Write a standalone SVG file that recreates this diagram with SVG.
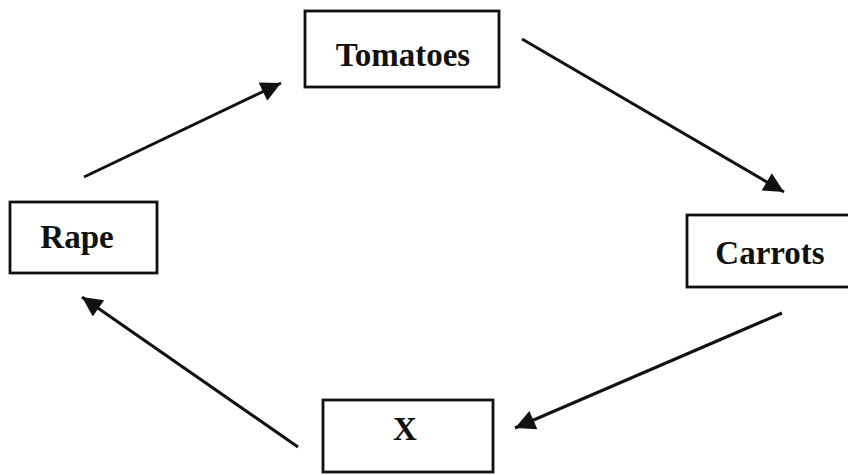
<svg xmlns="http://www.w3.org/2000/svg" width="848" height="475" viewBox="0 0 848 475">
<style>
.box{fill:#fff;stroke:#111;stroke-width:2.8}
.lbl{font-family:"Liberation Serif","Times New Roman",serif;font-weight:bold;font-size:33px;fill:#111;text-anchor:middle}
.con{stroke:#111;stroke-width:3;fill:none;marker-end:url(#ah)}
</style>
<defs>
<marker id="ah" viewBox="0 0 10 10" refX="10" refY="5" markerUnits="userSpaceOnUse" markerWidth="24" markerHeight="20" orient="auto">
<path d="M0,0 L10,5 L0,10 z" fill="#111"/>
</marker>
</defs>
<rect width="848" height="475" fill="#fff"/>
<g id="connectors">
<line class="con" x1="84" y1="177" x2="281" y2="83"/>
<line class="con" x1="522" y1="39" x2="784" y2="192"/>
<line class="con" x1="782" y1="313" x2="515" y2="428"/>
<line class="con" x1="298" y1="447" x2="82" y2="297"/>
</g>
<g id="tomatoes">
<rect class="box" x="305" y="11" width="194" height="76"/>
<text class="lbl" x="403" y="66">Tomatoes</text>
</g>
<g id="rape">
<rect class="box" x="10" y="202" width="147" height="71"/>
<text class="lbl" x="77" y="248">Rape</text>
</g>
<g id="carrots">
<rect class="box" x="687" y="215" width="170" height="72"/>
<text class="lbl" x="770" y="264">Carrots</text>
</g>
<g id="x">
<rect class="box" x="323" y="400" width="170" height="72"/>
<text class="lbl" x="405" y="440">X</text>
</g>
</svg>
